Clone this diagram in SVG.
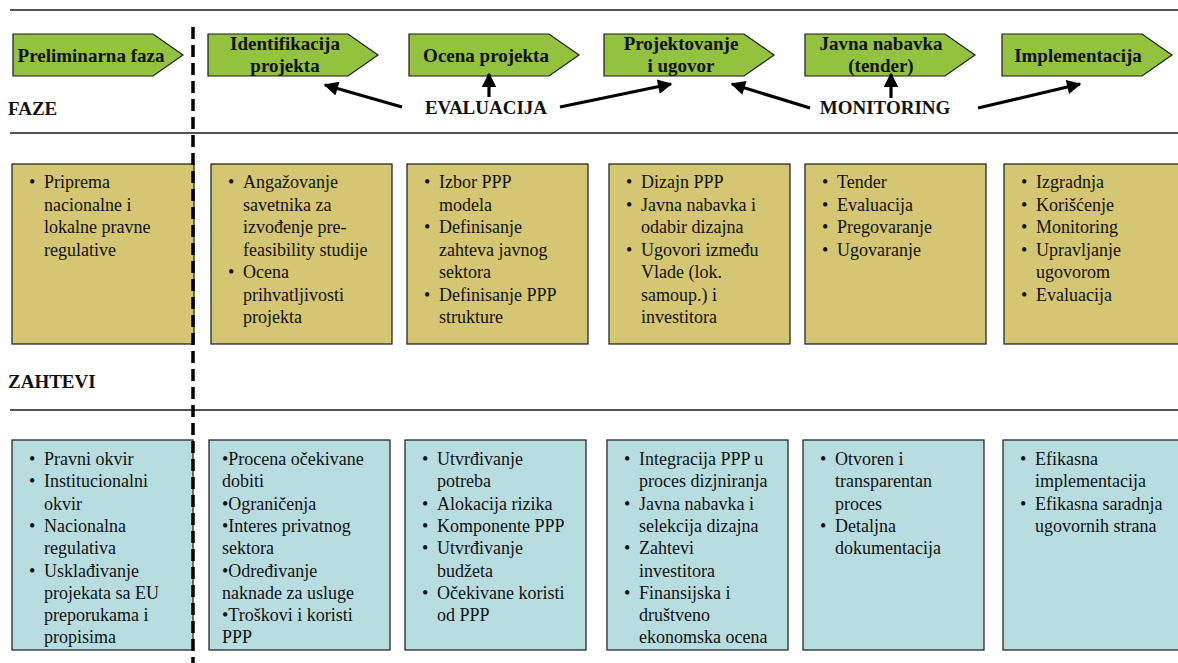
<svg xmlns="http://www.w3.org/2000/svg" width="1178" height="663" viewBox="0 0 1178 663">
<defs>
<style>
.rule{stroke:#1a1a1a;stroke-width:1.5;fill:none}
.phase{fill:#93c23f;stroke:#1a1a1a;stroke-width:1.2}
.req{fill:#d4c673;stroke:#1a1a1a;stroke-width:1.2}
.cond{fill:#b8dde1;stroke:#1a1a1a;stroke-width:1.2}
.pt{font-family:"Liberation Serif","Times New Roman",serif;font-weight:bold;font-size:19px;fill:#111;text-anchor:middle}
.hd{font-family:"Liberation Serif","Times New Roman",serif;font-weight:bold;font-size:19px;fill:#111}
.t{font-family:"Liberation Serif","Times New Roman",serif;font-size:18px;fill:#111}
.arr{stroke:#000;stroke-width:3.2;fill:none;marker-end:url(#ah)}
.dash{stroke:#000;stroke-width:3.5;stroke-dasharray:12 6;fill:none}
</style>
<marker id="ah" viewBox="0 0 10 10" refX="9" refY="5" markerWidth="5" markerHeight="4.5" orient="auto" markerUnits="strokeWidth">
<path d="M0,0 L10,5 L0,10 z" fill="#000"/>
</marker>
</defs>
<rect width="1178" height="663" fill="#fff"/>

<g id="rules">
<line class="rule" x1="10" y1="10" x2="1178" y2="10"/>
<line class="rule" x1="10" y1="133" x2="1178" y2="133"/>
<line class="rule" x1="10" y1="410" x2="1178" y2="410"/>
</g>

<g id="headers">
<text class="hd" x="8" y="115">FAZE</text>
<text class="hd" x="8" y="388">ZAHTEVI</text>
<text class="hd" x="486" y="114" text-anchor="middle">EVALUACIJA</text>
<text class="hd" x="885" y="114" text-anchor="middle">MONITORING</text>
</g>

<g id="phase-preliminarna">
<path class="phase" d="M13,34 H153 L183,55 L153,76 H13 Z"/>
<text class="pt" x="91" y="62">Preliminarna faza</text>
</g>
<g id="phase-identifikacija">
<path class="phase" d="M208,34 H348 L378,55 L348,76 H208 Z"/>
<text class="pt" x="285" y="50">Identifikacija</text>
<text class="pt" x="285" y="72">projekta</text>
</g>
<g id="phase-ocena">
<path class="phase" d="M409,34 H549 L579,55 L549,76 H409 Z"/>
<text class="pt" x="486" y="62">Ocena projekta</text>
</g>
<g id="phase-projektovanje">
<path class="phase" d="M604,34 H744 L774,55 L744,76 H604 Z"/>
<text class="pt" x="681" y="50">Projektovanje</text>
<text class="pt" x="681" y="72">i ugovor</text>
</g>
<g id="phase-javna">
<path class="phase" d="M805,34 H945 L975,55 L945,76 H805 Z"/>
<text class="pt" x="881" y="50">Javna nabavka</text>
<text class="pt" x="881" y="72">(tender)</text>
</g>
<g id="phase-implementacija">
<path class="phase" d="M1002,34 H1142 L1172,55 L1142,76 H1002 Z"/>
<text class="pt" x="1078" y="62">Implementacija</text>
</g>

<g id="connectors">
<line class="arr" x1="402" y1="107" x2="325" y2="85"/>
<line class="arr" x1="489" y1="97" x2="489" y2="74"/>
<line class="arr" x1="560" y1="107" x2="671" y2="84"/>
<line class="arr" x1="810" y1="108" x2="732" y2="84"/>
<line class="arr" x1="891" y1="98" x2="891" y2="74"/>
<line class="arr" x1="978" y1="108" x2="1080" y2="84"/>
</g>

<g id="req-1">
<rect class="req" x="12" y="164" width="182" height="180"/>
<text class="t" x="29" y="188">•</text><text class="t" x="44" y="188">Priprema</text>
<text class="t" x="44" y="210.5">nacionalne i</text>
<text class="t" x="44" y="233">lokalne pravne</text>
<text class="t" x="44" y="255.5">regulative</text>
</g>
<g id="req-2">
<rect class="req" x="211" y="164" width="181" height="180"/>
<text class="t" x="228" y="188">•</text><text class="t" x="243" y="188">Angažovanje</text>
<text class="t" x="243" y="210.5">savetnika za</text>
<text class="t" x="243" y="233">izvođenje pre-</text>
<text class="t" x="243" y="255.5">feasibility studije</text>
<text class="t" x="228" y="278">•</text><text class="t" x="243" y="278">Ocena</text>
<text class="t" x="243" y="300.5">prihvatljivosti</text>
<text class="t" x="243" y="323">projekta</text>
</g>
<g id="req-3">
<rect class="req" x="407" y="164" width="181" height="180"/>
<text class="t" x="424" y="188">•</text><text class="t" x="439" y="188">Izbor PPP</text>
<text class="t" x="439" y="210.5">modela</text>
<text class="t" x="424" y="233">•</text><text class="t" x="439" y="233">Definisanje</text>
<text class="t" x="439" y="255.5">zahteva javnog</text>
<text class="t" x="439" y="278">sektora</text>
<text class="t" x="424" y="300.5">•</text><text class="t" x="439" y="300.5">Definisanje PPP</text>
<text class="t" x="439" y="323">strukture</text>
</g>
<g id="req-4">
<rect class="req" x="609" y="164" width="181" height="180"/>
<text class="t" x="626" y="188">•</text><text class="t" x="641" y="188">Dizajn PPP</text>
<text class="t" x="626" y="210.5">•</text><text class="t" x="641" y="210.5">Javna nabavka i</text>
<text class="t" x="641" y="233">odabir dizajna</text>
<text class="t" x="626" y="255.5">•</text><text class="t" x="641" y="255.5">Ugovori između</text>
<text class="t" x="641" y="278">Vlade (lok.</text>
<text class="t" x="641" y="300.5">samoup.) i</text>
<text class="t" x="641" y="323">investitora</text>
</g>
<g id="req-5">
<rect class="req" x="805" y="164" width="181" height="180"/>
<text class="t" x="822" y="188">•</text><text class="t" x="837" y="188">Tender</text>
<text class="t" x="822" y="210.5">•</text><text class="t" x="837" y="210.5">Evaluacija</text>
<text class="t" x="822" y="233">•</text><text class="t" x="837" y="233">Pregovaranje</text>
<text class="t" x="822" y="255.5">•</text><text class="t" x="837" y="255.5">Ugovaranje</text>
</g>
<g id="req-6">
<rect class="req" x="1004" y="164" width="184" height="180"/>
<text class="t" x="1021" y="188">•</text><text class="t" x="1036" y="188">Izgradnja</text>
<text class="t" x="1021" y="210.5">•</text><text class="t" x="1036" y="210.5">Korišćenje</text>
<text class="t" x="1021" y="233">•</text><text class="t" x="1036" y="233">Monitoring</text>
<text class="t" x="1021" y="255.5">•</text><text class="t" x="1036" y="255.5">Upravljanje</text>
<text class="t" x="1036" y="278">ugovorom</text>
<text class="t" x="1021" y="300.5">•</text><text class="t" x="1036" y="300.5">Evaluacija</text>
</g>

<g id="cond-1">
<rect class="cond" x="12" y="440" width="181" height="210"/>
<text class="t" x="29" y="465">•</text><text class="t" x="44" y="465">Pravni okvir</text>
<text class="t" x="29" y="487.3">•</text><text class="t" x="44" y="487.3">Institucionalni</text>
<text class="t" x="44" y="509.6">okvir</text>
<text class="t" x="29" y="531.9">•</text><text class="t" x="44" y="531.9">Nacionalna</text>
<text class="t" x="44" y="554.2">regulativa</text>
<text class="t" x="29" y="576.5">•</text><text class="t" x="44" y="576.5">Usklađivanje</text>
<text class="t" x="44" y="598.8">projekata sa EU</text>
<text class="t" x="44" y="621.1">preporukama i</text>
<text class="t" x="44" y="643.4">propisima</text>
</g>
<g id="cond-2">
<rect class="cond" x="209" y="440" width="181" height="210"/>
<text class="t" x="222" y="465">•Procena očekivane</text>
<text class="t" x="222" y="487.3">dobiti</text>
<text class="t" x="222" y="509.6">•Ograničenja</text>
<text class="t" x="222" y="531.9">•Interes privatnog</text>
<text class="t" x="222" y="554.2">sektora</text>
<text class="t" x="222" y="576.5">•Određivanje</text>
<text class="t" x="222" y="598.8">naknade za usluge</text>
<text class="t" x="222" y="621.1">•Troškovi i koristi</text>
<text class="t" x="222" y="643.4">PPP</text>
</g>
<g id="cond-3">
<rect class="cond" x="405" y="440" width="181" height="210"/>
<text class="t" x="422" y="465">•</text><text class="t" x="437" y="465">Utvrđivanje</text>
<text class="t" x="437" y="487.3">potreba</text>
<text class="t" x="422" y="509.6">•</text><text class="t" x="437" y="509.6">Alokacija rizika</text>
<text class="t" x="422" y="531.9">•</text><text class="t" x="437" y="531.9">Komponente PPP</text>
<text class="t" x="422" y="554.2">•</text><text class="t" x="437" y="554.2">Utvrđivanje</text>
<text class="t" x="437" y="576.5">budžeta</text>
<text class="t" x="422" y="598.8">•</text><text class="t" x="437" y="598.8">Očekivane koristi</text>
<text class="t" x="437" y="621.1">od PPP</text>
</g>
<g id="cond-4">
<rect class="cond" x="607" y="440" width="181" height="210"/>
<text class="t" x="624" y="465">•</text><text class="t" x="639" y="465">Integracija PPP u</text>
<text class="t" x="639" y="487.3">proces dizjniranja</text>
<text class="t" x="624" y="509.6">•</text><text class="t" x="639" y="509.6">Javna nabavka i</text>
<text class="t" x="639" y="531.9">selekcija dizajna</text>
<text class="t" x="624" y="554.2">•</text><text class="t" x="639" y="554.2">Zahtevi</text>
<text class="t" x="639" y="576.5">investitora</text>
<text class="t" x="624" y="598.8">•</text><text class="t" x="639" y="598.8">Finansijska i</text>
<text class="t" x="639" y="621.1">društveno</text>
<text class="t" x="639" y="643.4">ekonomska ocena</text>
</g>
<g id="cond-5">
<rect class="cond" x="803" y="440" width="181" height="210"/>
<text class="t" x="820" y="465">•</text><text class="t" x="835" y="465">Otvoren i</text>
<text class="t" x="835" y="487.3">transparentan</text>
<text class="t" x="835" y="509.6">proces</text>
<text class="t" x="820" y="531.9">•</text><text class="t" x="835" y="531.9">Detaljna</text>
<text class="t" x="835" y="554.2">dokumentacija</text>
</g>
<g id="cond-6">
<rect class="cond" x="1003" y="440" width="185" height="210"/>
<text class="t" x="1020" y="465">•</text><text class="t" x="1035" y="465">Efikasna</text>
<text class="t" x="1035" y="487.3">implementacija</text>
<text class="t" x="1020" y="509.6">•</text><text class="t" x="1035" y="509.6">Efikasna saradnja</text>
<text class="t" x="1035" y="531.9">ugovornih strana</text>
</g>

<g id="divider">
<line class="dash" x1="193" y1="27" x2="193" y2="663"/>
</g>
</svg>
